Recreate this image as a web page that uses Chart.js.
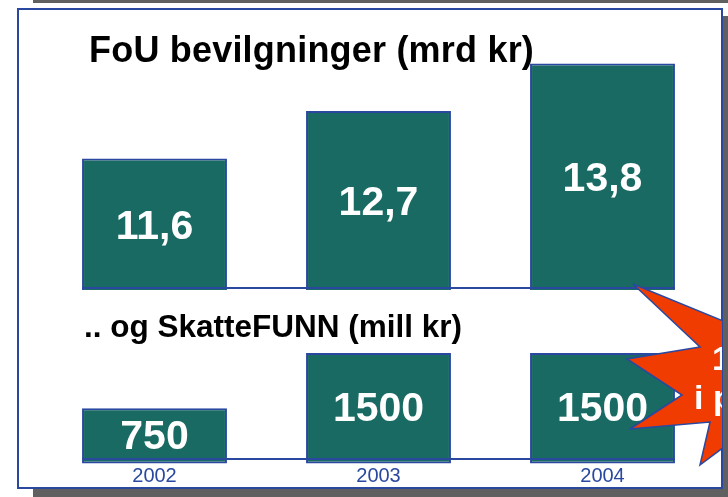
<!DOCTYPE html>
<html>
<head>
<meta charset="utf-8">
<script src="https://cdn.jsdelivr.net/npm/chart.js@4.4.0/dist/chart.umd.min.js"></script>
<style>
  html, body { margin: 0; padding: 0; background: #fff; }
  #page { position: relative; width: 728px; height: 497px; overflow: hidden; background: #fff; font-family: "Liberation Sans", Arial, sans-serif; }
  #topbar { position: absolute; left: 33px; top: 0; width: 695px; height: 3px; background: #606060; }
  #box { position: absolute; left: 17px; top: 8px; width: 702px; height: 477px; border: 2px solid #2a48a0; background: #fff; box-shadow: 16px 8px 0 #606060; }
  canvas { position: absolute; left: 0; }
  #c1 { top: 0; }
  #c2 { top: 300px; }
  .title { position: absolute; font-weight: bold; color: #000; white-space: nowrap; }
  #t1 { left: 89px; top: 29px; font-size: 36px; letter-spacing: 0.2px; }
  #t2 { left: 84px; top: 308px; font-size: 31.5px; }
  #star { position: absolute; left: 0; top: 0; }
</style>
</head>
<body>
<div id="page">
  <div id="topbar"></div>
  <div id="box"></div>
  <canvas id="c1" width="728" height="290"></canvas>
  <canvas id="c2" width="728" height="197"></canvas>
  <div class="title" id="t1">FoU bevilgninger (mrd kr)</div>
  <div class="title" id="t2">.. og SkatteFUNN (mill kr)</div>
  <svg id="star" width="723" height="497">
    <defs><clipPath id="cl"><rect x="0" y="0" width="722" height="488"/></clipPath></defs>
    <g clip-path="url(#cl)">
      <polygon points="633,284 700,347 627,359 682,395 630,429 710,422 700,465 760,420 800,420 800,330 760,336"
        fill="#f03c00" stroke="#2a48a0" stroke-width="1.5" stroke-linejoin="miter"/>
      <text x="712" y="370" fill="#fff" font-size="34" font-weight="bold" font-family="Liberation Sans, Arial, sans-serif">19 %</text>
      <text x="694" y="409" fill="#fff" font-size="34" font-weight="bold" font-family="Liberation Sans, Arial, sans-serif">i perioden</text>
    </g>
  </svg>
</div>
<script>
const years = ['2002', '2003', '2004'];
const fouValues = [11.6, 12.7, 13.8];
const fouLabels = ['11,6', '12,7', '13,8'];
const skattValues = [750, 1500, 1500];
const skattLabels = ['750', '1500', '1500'];

const barFill = '#186a63';
const barEdge = '#2a48a0';

// white numbers inside the bars, base line and (bottom chart) year labels
function barText(values, labels, showYears) {
  return {
    id: 'barText',
    afterDraw(chart) {
      const ctx = chart.ctx;
      const x = chart.scales.x, y = chart.scales.y;
      const meta = chart.getDatasetMeta(0);
      const half = meta.data[0].width / 2;
      const baseY = y.getPixelForValue(y.min);
      ctx.save();
      ctx.strokeStyle = barEdge;
      ctx.lineWidth = 2;
      ctx.beginPath();
      ctx.moveTo(x.getPixelForValue(0) - half, baseY);
      ctx.lineTo(x.getPixelForValue(values.length - 1) + half, baseY);
      ctx.stroke();

      ctx.fillStyle = '#ffffff';
      ctx.font = 'bold 41px "Liberation Sans", Arial, sans-serif';
      ctx.textAlign = 'center';
      ctx.textBaseline = 'middle';
      values.forEach((v, i) => {
        ctx.fillText(labels[i], x.getPixelForValue(i), (y.getPixelForValue(v) + baseY) / 2 + 4);
      });

      if (showYears) {
        ctx.fillStyle = barEdge;
        ctx.font = '20px "Liberation Sans", Arial, sans-serif';
        years.forEach((lab, i) => {
          ctx.fillText(lab, x.getPixelForValue(i), baseY + 17);
        });
      }
      ctx.restore();
    }
  };
}

function makeChart(id, values, labels, yMin, yMax, pad, showYears) {
  return new Chart(document.getElementById(id), {
    type: 'bar',
    data: {
      labels: years,
      datasets: [{
        data: values,
        backgroundColor: barFill,
        borderColor: barEdge,
        borderWidth: 2,
        borderSkipped: false,
        categoryPercentage: 0.647,
        barPercentage: 1,
        clip: false
      }]
    },
    options: {
      responsive: false,
      animation: false,
      layout: { padding: pad },
      plugins: {
        legend: { display: false },
        tooltip: { enabled: false }
      },
      scales: {
        x: { display: false },
        y: { display: false, min: yMin, max: yMax }
      }
    },
    plugins: [barText(values, labels, showYears)]
  });
}

makeChart('c1', fouValues, fouLabels, 8.6, 14.5, { left: 42.5, right: 13.5, top: 33.2, bottom: 2 }, false);
makeChart('c2', skattValues, skattLabels, 60, 1700, { left: 42.5, right: 13.5, top: 38.3, bottom: 38 }, true);
</script>
</body>
</html>
